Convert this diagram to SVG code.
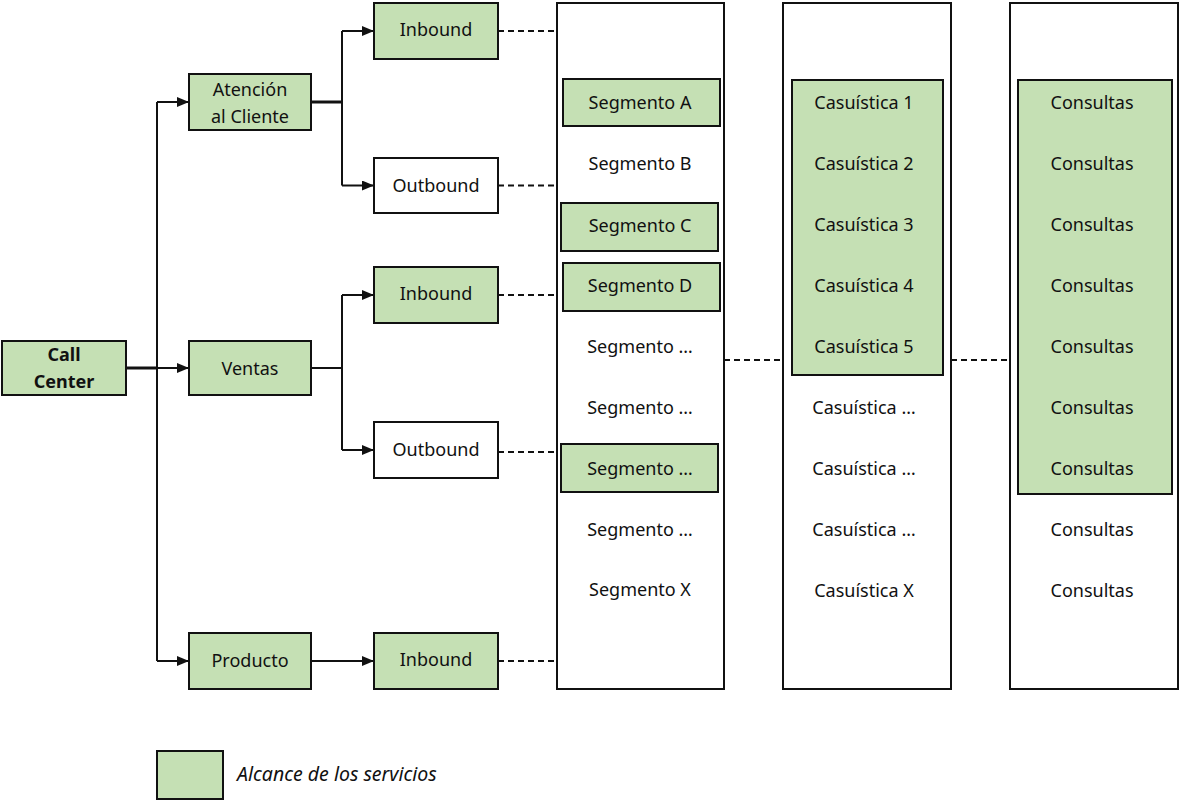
<svg xmlns="http://www.w3.org/2000/svg" width="1180" height="800" viewBox="0 0 1180 800">
  <style>
    .box { stroke: #111; stroke-width: 2; }
    .g { fill: #C5E0B4; }
    .w { fill: #FFFFFF; }
    .col { fill: #FFFFFF; stroke: #111; stroke-width: 2; }
    text { font-family: "Noto Sans", "Open Sans", sans-serif; font-size: 18px; fill: #111; text-anchor: middle; dominant-baseline: central; }
    .b { font-weight: bold; }
    .it { font-style: italic; text-anchor: start; font-size: 19.5px; }
    .ln { fill: none; stroke: #111; stroke-width: 2; }
    .thick { stroke-width: 3; }
    .dash { fill: none; stroke: #111; stroke-width: 1.8; stroke-dasharray: 6 4; }
  </style>
  <defs>
    <marker id="arr" markerUnits="userSpaceOnUse" markerWidth="12" markerHeight="10" refX="12" refY="5" orient="auto">
      <path d="M0,0 L12,5 L0,10 z" fill="#111"/>
    </marker>
  </defs>

  <!-- connectors -->
  <g id="connectors">
    <path class="ln thick" d="M126,368 H157"/>
    <path class="ln" d="M157,102 V661"/>
    <path class="ln" d="M157,102 H189" marker-end="url(#arr)"/>
    <path class="ln" d="M157,368 H189" marker-end="url(#arr)"/>
    <path class="ln" d="M157,661 H189" marker-end="url(#arr)"/>

    <path class="ln thick" d="M311,102 H342"/>
    <path class="ln" d="M342,31 V185.5"/>
    <path class="ln" d="M342,31 H374" marker-end="url(#arr)"/>
    <path class="ln" d="M342,185.5 H374" marker-end="url(#arr)"/>

    <path class="ln" d="M311,368 H342"/>
    <path class="ln" d="M342,295 V450"/>
    <path class="ln" d="M342,295 H374" marker-end="url(#arr)"/>
    <path class="ln" d="M342,450 H374" marker-end="url(#arr)"/>

    <path class="ln" d="M311,661 H374" marker-end="url(#arr)"/>

    <path class="dash" d="M498,31 H557"/>
    <path class="dash" d="M498,185.5 H557"/>
    <path class="dash" d="M498,295 H557"/>
    <path class="dash" d="M498,452 H557"/>
    <path class="dash" d="M498,661 H557"/>
    <path class="dash" d="M724,360 H783"/>
    <path class="dash" d="M951,360 H1010"/>
  </g>

  <!-- tree nodes -->
  <g id="call-center">
    <rect class="box g" x="2" y="341" width="124" height="54"/>
    <text class="b" x="64" y="354">Call</text>
    <text class="b" x="64" y="381">Center</text>
  </g>
  <g id="atencion">
    <rect class="box g" x="189" y="74" width="122" height="56"/>
    <text x="250" y="89">Atención</text>
    <text x="250" y="116">al Cliente</text>
  </g>
  <g id="ventas">
    <rect class="box g" x="189" y="341" width="122" height="54"/>
    <text x="250" y="368">Ventas</text>
  </g>
  <g id="producto">
    <rect class="box g" x="189" y="633" width="122" height="56"/>
    <text x="250" y="660">Producto</text>
  </g>
  <g id="inbound-1">
    <rect class="box g" x="374" y="3" width="124" height="56"/>
    <text x="436" y="29">Inbound</text>
  </g>
  <g id="outbound-1">
    <rect class="box w" x="374" y="158" width="124" height="55"/>
    <text x="436" y="185">Outbound</text>
  </g>
  <g id="inbound-2">
    <rect class="box g" x="374" y="267" width="124" height="56"/>
    <text x="436" y="293">Inbound</text>
  </g>
  <g id="outbound-2">
    <rect class="box w" x="374" y="422" width="124" height="56"/>
    <text x="436" y="449">Outbound</text>
  </g>
  <g id="inbound-3">
    <rect class="box g" x="374" y="633" width="124" height="56"/>
    <text x="436" y="659">Inbound</text>
  </g>

  <!-- segment column -->
  <g id="segmentos">
    <rect class="col" x="557" y="3" width="167" height="686"/>
    <rect class="box g" x="563" y="79" width="157" height="47"/>
    <rect class="box g" x="561" y="203" width="157" height="48"/>
    <rect class="box g" x="563" y="263" width="157" height="48"/>
    <rect class="box g" x="561" y="444" width="157" height="48"/>
    <text x="640" y="102">Segmento A</text>
    <text x="640" y="163">Segmento B</text>
    <text x="640" y="225">Segmento C</text>
    <text x="640" y="285">Segmento D</text>
    <text x="640" y="346">Segmento …</text>
    <text x="640" y="407">Segmento …</text>
    <text x="640" y="468">Segmento …</text>
    <text x="640" y="529">Segmento …</text>
    <text x="640" y="589">Segmento X</text>
  </g>

  <!-- casuística column -->
  <g id="casuisticas">
    <rect class="col" x="783" y="3" width="168" height="686"/>
    <rect class="box g" x="792" y="80" width="151" height="295"/>
    <text x="864" y="102">Casuística 1</text>
    <text x="864" y="163">Casuística 2</text>
    <text x="864" y="224">Casuística 3</text>
    <text x="864" y="285">Casuística 4</text>
    <text x="864" y="346">Casuística 5</text>
    <text x="864" y="407">Casuística …</text>
    <text x="864" y="468">Casuística …</text>
    <text x="864" y="529">Casuística …</text>
    <text x="864" y="590">Casuística X</text>
  </g>

  <!-- consultas column -->
  <g id="consultas">
    <rect class="col" x="1010" y="3" width="168" height="686"/>
    <rect class="box g" x="1018" y="80" width="154" height="414"/>
    <text x="1092" y="102">Consultas</text>
    <text x="1092" y="163">Consultas</text>
    <text x="1092" y="224">Consultas</text>
    <text x="1092" y="285">Consultas</text>
    <text x="1092" y="346">Consultas</text>
    <text x="1092" y="407">Consultas</text>
    <text x="1092" y="468">Consultas</text>
    <text x="1092" y="529">Consultas</text>
    <text x="1092" y="590">Consultas</text>
  </g>

  <!-- legend -->
  <g id="legend">
    <rect class="box g" x="157" y="751" width="66" height="48"/>
    <text class="it" x="237" y="773">Alcance de los servicios</text>
  </g>
</svg>
